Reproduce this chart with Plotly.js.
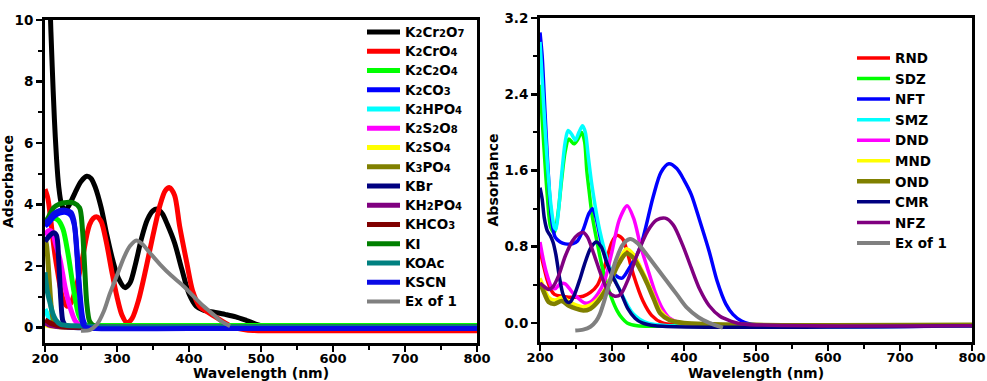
<!DOCTYPE html>
<html>
<head>
<meta charset="utf-8">
<script src="https://cdn.plot.ly/plotly-3.0.1.min.js"></script>
<style>html,body{margin:0;padding:0;background:#fff;}#chart{width:987px;height:381px;}</style>
</head>
<body>
<div id="chart"></div>
<script>
// ---------- LEFT PANEL DATA (wavelength nm, absorbance) ----------
const leftNames = ["K2Cr2O7","K2CrO4","K2C2O4","K2CO3","K2HPO4","K2S2O8","K2SO4","K3PO4","KBr","KH2PO4","KHCO3","KI","KOAc","KSCN","Ex of 1"];
const leftColors = ["#000000","#ff0000","#00ff00","#0000ff","#00ffff","#ff00ff","#ffff00","#808000","#000080","#800080","#800000","#008000","#008080","#0a0ae6","#808080"];

const k2cr2o7_x = [200,204,207,210,213,216,219,223,228,234,242,250,258,264,270,278,286,294,302,311,318,326,334,342,350,356,363,370,380,390,400,410,420,435,450,465,480,495,510,530,600,700,800];
const k2cr2o7_y = [16,14,10.5,8.5,6.8,5.5,4.6,4.0,3.8,4.0,4.4,4.75,4.92,4.85,4.55,3.9,3.0,2.2,1.6,1.3,1.45,2.1,2.9,3.5,3.8,3.85,3.7,3.35,2.75,1.9,1.1,0.7,0.57,0.5,0.43,0.35,0.23,0.1,0.0,-0.04,-0.05,-0.05,-0.05];

const k2cro4_x = [200,204,208,213,218,224,230,236,243,250,258,262,267,272,278,285,293,300,307,314,321,330,340,350,360,367,373,380,387,397,405,415,425,440,460,480,500,600,700,800];
const k2cro4_y = [4.5,4.2,3.5,2.5,1.75,1.0,0.7,0.8,1.3,2.0,3.0,3.35,3.55,3.6,3.45,2.8,1.8,1.0,0.4,0.15,0.3,0.9,1.9,3.0,4.0,4.45,4.55,4.3,3.3,2.1,1.2,0.68,0.52,0.3,0.03,-0.08,-0.1,-0.1,-0.1,-0.1];

const k2c2o4_x = [200,205,210,218,225,232,240,247,255,265,300,500,800];
const k2c2o4_y = [3.3,3.45,3.55,3.5,3.2,2.4,1.2,0.4,0.1,0.07,0.07,0.07,0.07];

const k2co3_x = [200,205,212,220,228,236,241,245,249,253,258,300,500,800];
const k2co3_y = [3.3,3.4,3.6,3.72,3.75,3.65,3.3,2.3,1.0,0.25,0.02,0.0,0.0,0.0];

const k2hpo4_x = [200,203,206,210,215,222,240,300,500,800];
const k2hpo4_y = [0.6,0.45,0.3,0.16,0.08,0.04,0.03,0.03,0.03,0.03];

const k2s2o8_x = [200,205,210,215,221,228,235,242,250,260,300,500,800];
const k2s2o8_y = [3.0,3.15,3.1,2.7,2.2,1.3,0.65,0.22,0.06,0.01,0.0,0.0,0.0];

const k2so4_x = [200,205,210,220,300,500,800];
const k2so4_y = [0.1,0.07,0.05,0.03,0.02,0.02,0.02];

const k3po4_x = [200,202,204,206,209,213,220,240,300,500,800];
const k3po4_y = [2.9,2.7,2.2,1.5,0.6,0.15,0.03,0.01,0.0,0.0,0.0];

const kbr_x = [200,205,212,216,219,222,225,230,240,300,500,800];
const kbr_y = [2.8,2.95,3.08,3.0,2.2,0.9,0.2,0.03,0.0,0.0,0.0,0.0];

const kh2po4_x = [200,205,212,220,300,500,800];
const kh2po4_y = [0.15,0.09,0.05,0.03,0.02,0.02,0.02];

const khco3_x = [200,205,210,220,235,300,500,800];
const khco3_y = [0.25,0.18,0.12,0.05,0.02,0.01,0.01,0.01];

const ki_x = [200,205,212,220,230,240,248,252,255,258,262,268,280,500,800];
const ki_y = [3.4,3.6,3.9,4.02,4.07,4.05,3.9,3.2,2.0,0.8,0.2,0.05,0.02,0.02,0.02];

const koac_x = [200,203,207,211,215,222,240,255,270,300,500,800];
const koac_y = [1.8,1.2,0.8,0.45,0.25,0.1,0.06,0.05,0.03,0.02,0.02,0.02];

const kscn_x = [200,205,212,220,228,236,240,244,247,250,253,258,270,400,600,800];
const kscn_y = [3.4,3.5,3.7,3.8,3.82,3.75,3.5,2.5,1.4,0.5,0.1,0.0,-0.03,-0.03,-0.03,-0.03];

const ex1L_x = [250,262,272,282,290,300,310,318,327,335,345,360,375,390,405,420,435,445,457];
const ex1L_y = [-0.1,-0.08,0.1,0.55,1.1,1.7,2.3,2.65,2.83,2.72,2.45,2.05,1.7,1.4,1.05,0.7,0.4,0.2,0.05];

const leftX = [k2cr2o7_x,k2cro4_x,k2c2o4_x,k2co3_x,k2hpo4_x,k2s2o8_x,k2so4_x,k3po4_x,kbr_x,kh2po4_x,khco3_x,ki_x,koac_x,kscn_x,ex1L_x];
const leftY = [k2cr2o7_y,k2cro4_y,k2c2o4_y,k2co3_y,k2hpo4_y,k2s2o8_y,k2so4_y,k3po4_y,kbr_y,kh2po4_y,khco3_y,ki_y,koac_y,kscn_y,ex1L_y];

// ---------- RIGHT PANEL DATA ----------
const rightNames = ["RND","SDZ","NFT","SMZ","DND","MND","OND","CMR","NFZ","Ex of 1"];
const rightColors = ["#ff0000","#00ff00","#0000ff","#00ffff","#ff00ff","#ffff00","#808000","#000080","#800080","#808080"];

const rnd_x = [200,205,210,215,220,230,240,250,260,270,280,290,300,307,315,322,330,343,355,370,390,500,800];
const rnd_y = [0.76,0.6,0.45,0.35,0.3,0.28,0.27,0.27,0.28,0.32,0.4,0.6,0.85,0.92,0.88,0.72,0.5,0.23,0.08,0.0,-0.02,-0.03,-0.03];

const sdz_x = [200,205,210,215,220,225,230,235,240,247,252,258,262,265,268,272,279,286,293,300,307,314,321,335,400,800];
const sdz_y = [2.5,1.9,1.35,1.0,0.95,1.15,1.5,1.8,1.93,1.88,1.92,2.0,1.9,1.6,1.4,1.15,0.86,0.6,0.41,0.25,0.13,0.05,0.0,-0.03,-0.03,-0.03];

const nft_x = [200,203,207,212,216,221,228,235,245,252,260,268,273,278,285,295,305,314,322,339,357,368,379,390,400,410,422,435,446,458,468,480,500,800];
const nft_y = [3.05,2.8,2.2,1.5,1.1,0.9,0.85,0.83,0.83,0.86,0.98,1.15,1.2,1.1,0.85,0.6,0.5,0.47,0.55,0.79,1.32,1.58,1.67,1.62,1.5,1.35,1.07,0.75,0.44,0.2,0.09,0.02,-0.02,-0.03];

const smz_x = [200,205,210,215,220,222,226,230,235,239,244,249,254,259,263,267,272,283,297,311,329,349,380,800];
const smz_y = [2.95,2.3,1.7,1.25,1.0,0.98,1.2,1.55,1.9,2.02,1.98,1.92,2.0,2.07,2.0,1.75,1.45,0.97,0.58,0.34,0.1,0.0,-0.03,-0.03];

const dnd_x = [200,205,210,216,221,228,235,245,253,262,270,280,290,300,310,321,330,340,349,360,370,380,395,500,800];
const dnd_y = [0.85,0.65,0.5,0.38,0.36,0.41,0.41,0.32,0.26,0.21,0.22,0.3,0.45,0.75,1.08,1.23,1.1,0.8,0.58,0.32,0.15,0.05,0.0,-0.02,-0.02];

const mnd_x = [200,205,212,220,230,240,250,260,270,280,290,300,310,320,330,340,349,358,367,380,395,410,500,800];
const mnd_y = [0.47,0.38,0.27,0.24,0.27,0.23,0.19,0.17,0.19,0.25,0.35,0.5,0.66,0.78,0.72,0.58,0.44,0.28,0.13,0.04,0.0,-0.01,-0.02,-0.02];

const ond_x = [200,205,212,220,230,240,250,260,270,280,290,300,310,320,330,340,349,358,367,380,400,500,800];
const ond_y = [0.42,0.33,0.22,0.2,0.23,0.18,0.15,0.13,0.15,0.22,0.33,0.48,0.63,0.73,0.68,0.55,0.41,0.25,0.1,0.03,0.0,-0.02,-0.02];

const cmr_x = [200,203,206,210,214,218,222,227,232,238,242,248,255,262,270,278,285,292,300,311,322,332,342,360,800];
const cmr_y = [1.42,1.3,1.1,0.97,0.92,0.85,0.72,0.48,0.3,0.22,0.22,0.3,0.45,0.62,0.78,0.85,0.8,0.65,0.5,0.34,0.15,0.05,0.0,-0.03,-0.03];

const nfz_x = [200,206,212,218,226,235,245,253,260,266,275,285,295,304,312,322,335,350,362,374,385,398,410,422,435,450,465,480,800];
const nfz_y = [0.42,0.38,0.35,0.38,0.5,0.7,0.86,0.93,0.95,0.9,0.72,0.5,0.33,0.28,0.3,0.45,0.72,0.97,1.08,1.1,1.03,0.82,0.58,0.35,0.18,0.07,0.02,-0.01,-0.03];

const ex1R_x = [249,260,270,278,283,290,297,305,315,325,335,345,355,366,376,390,404,420,435,454];
const ex1R_y = [-0.08,-0.07,-0.04,0.02,0.09,0.25,0.44,0.65,0.82,0.88,0.84,0.75,0.65,0.54,0.44,0.3,0.16,0.06,0.0,-0.05];

const rightX = [rnd_x,sdz_x,nft_x,smz_x,dnd_x,mnd_x,ond_x,cmr_x,nfz_x,ex1R_x];
const rightY = [rnd_y,sdz_y,nft_y,smz_y,dnd_y,mnd_y,ond_y,cmr_y,nfz_y,ex1R_y];

// ---------- AXES / TICKS ----------
const xTickVals = [200,300,400,500,600,700,800];
const leftYTickVals = [0,2,4,6,8,10];
const rightYTickVals = [0.0,0.8,1.6,2.4,3.2];

const FONT = "DejaVu Sans, Arial, sans-serif";

// chemical formula label: digits drawn smaller (subscript style), letters a bit larger
function formula(name){
  if (name === "Ex of 1") return "<span style='font-size:13.5px'>Ex of 1</span>";
  return name.replace(/(\d+)|([^\d]+)/g, (m, d, t) =>
    d ? "<span style='font-size:10px'>" + d + "</span>" : "<span style='font-size:13.5px'>" + t + "</span>");
}

const traces = [];
leftNames.forEach((n,i)=>{
  traces.push({
    type:"scatter", mode:"lines", name: formula(n),
    x: leftX[i], y: leftY[i], xaxis:"x", yaxis:"y", legend:"legend",
    line:{color:leftColors[i], width:(n==="Ex of 1"?4:5), shape:"spline", smoothing:0.8}
  });
});
rightNames.forEach((n,i)=>{
  traces.push({
    type:"scatter", mode:"lines", name: n,
    x: rightX[i], y: rightY[i], xaxis:"x2", yaxis:"y2", legend:"legend2",
    line:{color:rightColors[i], width:(n==="OND"?4.5:(n==="Ex of 1"?4:3.5)), shape:"spline", smoothing:0.8}
  });
});

function xAxis(domain, anchor){
  return {
    domain: domain, anchor: anchor, range:[200,800],
    tickmode:"array", tickvals:xTickVals,
    ticks:"outside", ticklen:6, tickwidth:2.5, tickcolor:"#000",
    ticklabelstandoff:-5,
    minor:{ticks:"outside", ticklen:4, tickwidth:2, tickcolor:"#000", dtick:50, tick0:0},
    showline:true, linewidth:3, linecolor:"#000", mirror:true,
    showgrid:false, zeroline:false,
    tickfont:{family:FONT, size:13, color:"#000", weight:"bold"},
    title:{text:"Wavelength (nm)", font:{family:FONT, size:14, color:"#000", weight:"bold"}, standoff:2}
  };
}
function yAxis(domain, anchor, range, tickvals, minorD, fmt, title){
  return {
    domain: domain, anchor: anchor, range: range,
    tickmode:"array", tickvals: tickvals, tickformat: fmt,
    ticks:"outside", ticklen:6, tickwidth:2.5, tickcolor:"#000",
    minor:{ticks:"outside", ticklen:4, tickwidth:2, tickcolor:"#000", dtick:minorD, tick0:0},
    showline:true, linewidth:3, linecolor:"#000", mirror:true,
    showgrid:false, zeroline:false,
    tickfont:{family:FONT, size:13.5, color:"#000", weight:"bold"},
    title:{text:title, font:{family:FONT, size:14, color:"#000", weight:"bold"}, standoff:3}
  };
}

const W = 987, H = 381;
const layout = {
  width: W, height: H,
  margin:{l:0, r:0, t:0, b:0, pad:0},
  paper_bgcolor:"#fff", plot_bgcolor:"#fff",
  showlegend:true,
  xaxis: xAxis([45/W, 477/W], "y"),
  yaxis: yAxis([1-343/H, 1-20/H], "x", [-0.5,10], leftYTickVals, 1, "", "Adsorbance"),
  xaxis2: xAxis([540/W, 972/W], "y2"),
  yaxis2: yAxis([1-342/H, 1-18/H], "x2", [-0.2,3.201], rightYTickVals, 0.4, ".1f", "Absorbance"),
  legend:{x:362/W, y:1-17.4/H, xanchor:"left", yanchor:"top", bgcolor:"rgba(0,0,0,0)", borderwidth:0,
    font:{family:FONT, size:12.5, color:"#000", weight:"bold"}, tracegroupgap:0, itemwidth:33},
  legend2:{x:852/W, y:1-42.7/H, xanchor:"left", yanchor:"top", bgcolor:"rgba(0,0,0,0)", borderwidth:0,
    font:{family:FONT, size:13.5, color:"#000", weight:"bold"}, tracegroupgap:0, itemwidth:33}
};

Plotly.newPlot("chart", traces, layout, {staticPlot:true, displayModeBar:false});
</script>
</body>
</html>
